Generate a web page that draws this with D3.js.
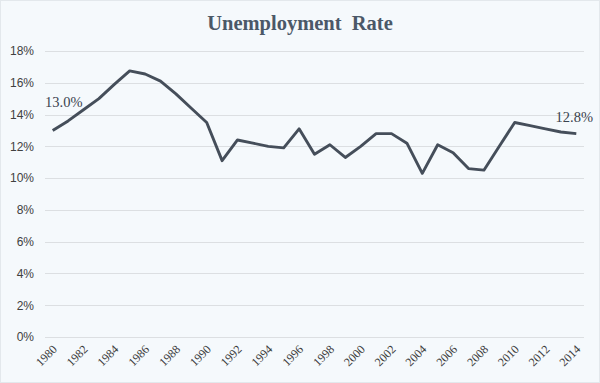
<!DOCTYPE html>
<html>
<head>
<meta charset="utf-8">
<script src="https://cdn.jsdelivr.net/npm/d3@7"></script>
<style>
    html, body { margin: 0; padding: 0; background: #fff; }
    svg { display: block; }
</style>
</head>
<body>
<svg id="chart"></svg>
<script>
// unemployment rate, %
var years = [1980, 1981, 1982, 1983, 1984, 1985, 1986, 1987, 1988, 1989,
    1990, 1991, 1992, 1993, 1994, 1995, 1996, 1997, 1998, 1999,
    2000, 2001, 2002, 2003, 2004, 2005, 2006, 2007, 2008, 2009,
    2010, 2011, 2012, 2013, 2014]
var rates = [13.0, 13.6, 14.3, 15.0, 15.9, 16.75, 16.55, 16.1, 15.3, 14.4,
    13.5, 11.1, 12.4, 12.2, 12.0, 11.9, 13.1, 11.5, 12.1, 11.3,
    12.0, 12.8, 12.8, 12.2, 10.3, 12.1, 11.6, 10.6, 10.5, 12.0,
    13.5, 13.3, 13.1, 12.9, 12.8]
var yTicks = [0, 2, 4, 6, 8, 10, 12, 14, 16, 18]
var xTicks = years.filter(function (y) { return y % 2 == 0 })
var title = "Unemployment  Rate"

var serif = "'Liberation Serif', 'Times New Roman', serif"
var width = 600, height = 383
var margin = {top: 51, right: 16, bottom: 46, left: 45}

var svg = d3.select("#chart")
    .attr("width", width)
    .attr("height", height)

svg.append("rect")
    .attr("x", 0.5).attr("y", 0.5)
    .attr("width", width - 1).attr("height", height - 1)
    .attr("fill", "#f5f9fc")
    .attr("stroke", "#e3e8ec")

var x = d3.scalePoint()
    .domain(years)
    .range([margin.left, width - margin.right])
    .padding(0.5)

var y = d3.scaleLinear()
    .domain([0, 18])
    .range([height - margin.bottom, margin.top])

// gridlines
svg.append("g")
    .selectAll("line")
    .data(yTicks)
    .enter()
    .append("line")
        .attr("x1", margin.left)
        .attr("x2", width - margin.right)
        .attr("y1", d => Math.round(y(d)) + 0.5)
        .attr("y2", d => Math.round(y(d)) + 0.5)
        .attr("stroke", "#dcdfe2")
        .attr("stroke-width", 1)

// y axis labels
var yAxis = svg.append("g")
    .attr("transform", "translate(" + (margin.left - 11) + ",0)")
    .call(d3.axisLeft(y).tickValues(yTicks).tickSize(0).tickPadding(0).tickFormat(d => d + "%"))
yAxis.select(".domain").remove()
yAxis.selectAll("text")
    .attr("font-family", "'Liberation Sans', Arial, sans-serif")
    .attr("font-size", "12px")
    .attr("fill", "#404040")

// x axis labels, rotated
svg.append("g")
    .selectAll("text")
    .data(xTicks)
    .enter()
    .append("text")
        .attr("transform", d => "translate(" + (x(d) + 5) + "," + (height - margin.bottom + 13) + ") rotate(-45)")
        .attr("text-anchor", "end")
        .attr("font-family", serif)
        .attr("font-size", "12px")
        .attr("fill", "#3a3a3a")
        .text(d => d)

// line
var line = d3.line()
    .x((d, i) => x(years[i]))
    .y(d => y(d))

svg.append("path")
    .datum(rates)
    .attr("d", line)
    .attr("fill", "none")
    .attr("stroke", "#454e5a")
    .attr("stroke-width", 2.9)
    .attr("stroke-linejoin", "round")

// end labels
var first = 0, last = rates.length - 1
svg.append("text")
    .attr("x", margin.left)
    .attr("y", y(rates[first]) - 23)
    .attr("font-family", serif)
    .attr("font-size", "14.5px")
    .attr("fill", "#3a434e")
    .text(rates[first].toFixed(1) + "%")

svg.append("text")
    .attr("x", x(years[last]) - 2)
    .attr("y", y(rates[last]) - 12)
    .attr("text-anchor", "middle")
    .attr("font-family", serif)
    .attr("font-size", "14.5px")
    .attr("fill", "#3a434e")
    .text(rates[last].toFixed(1) + "%")

// title
svg.append("text")
    .attr("x", width / 2)
    .attr("y", 30)
    .attr("text-anchor", "middle")
    .attr("font-family", serif)
    .attr("font-weight", "bold")
    .attr("font-size", "20.5px")
    .attr("fill", "#4b5868")
    .style("white-space", "pre")
    .text(title)
</script>
</body>
</html>
